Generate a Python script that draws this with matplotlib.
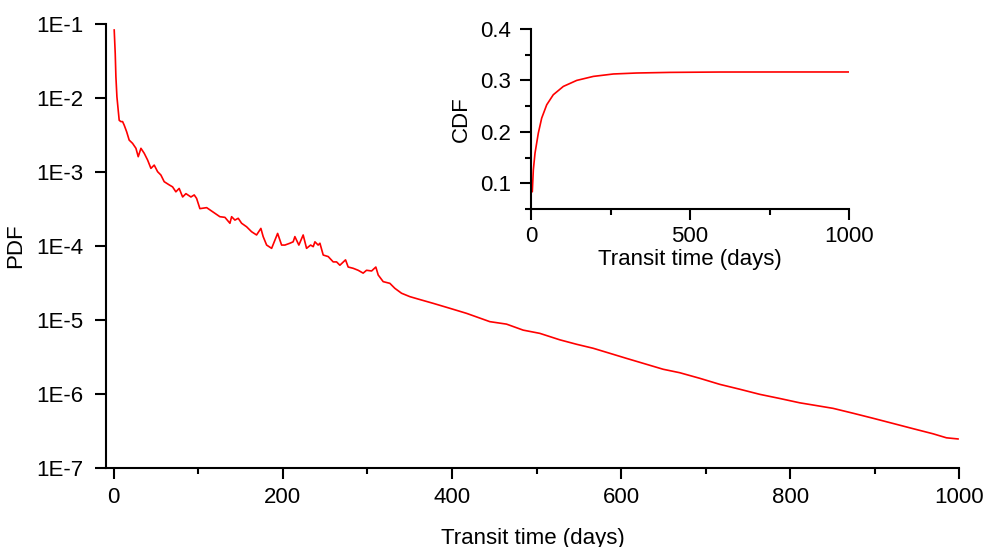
import numpy as np
import matplotlib.pyplot as plt
from matplotlib.ticker import FixedLocator, MultipleLocator, NullLocator

plt.rcParams['font.family'] = ['Liberation Sans', 'DejaVu Sans']

# PDF des temps de transit
pdf_jours = [0.7, 1.9, 2.7, 3.9, 5.4, 6.6, 8.6, 10.6, 12.5, 15.4, 18.4, 22.4, 26.4,
             29.1, 32.3, 36.2, 40.2, 44.1, 48.0, 52.0, 55.9, 59.8, 65.7, 69.7, 73.6,
             77.5, 81.6, 85.5, 91.4, 95.3, 98.1, 102, 110, 119.7, 125.6, 131.6, 137.5,
             139.5, 143.4, 147.3, 151.3, 157.2, 163.1, 169, 174.1, 176.8, 180.9, 186.8,
             190.7, 193.9, 198.6, 202.5, 208.4, 212.3, 214.3, 219, 224.1, 228.1, 232.9,
             236, 238, 241.8, 243.9, 247.8, 253.7, 259.6, 263.6, 267.5, 274.2, 277.3,
             283.2, 289.1, 295, 299, 305, 310, 312.8, 318.7, 326.6, 332.5, 340.4, 350.2,
             360, 377.8, 397.5, 417.3, 444.8, 464.5, 484.2, 503.9, 527.5, 547.3, 567,
             586.6, 606.4, 626, 649.7, 669.3, 693, 716.7, 740.3, 763.9, 787.6, 811.3,
             827, 850.6, 874.2, 897.9, 921.5, 945.2, 968.8, 984.6, 998.3]
pdf_val = [8.3e-2, 4.0e-2, 1.94e-2, 1.04e-2, 6.9e-3, 5.0e-3, 4.8e-3, 4.8e-3, 4.3e-3,
           3.5e-3, 2.7e-3, 2.44e-3, 2.09e-3, 1.61e-3, 2.09e-3, 1.79e-3, 1.45e-3, 1.12e-3,
           1.24e-3, 1.01e-3, 9.1e-4, 7.4e-4, 6.7e-4, 6.3e-4, 5.4e-4, 6.0e-4, 4.6e-4,
           5.1e-4, 4.6e-4, 4.9e-4, 4.4e-4, 3.2e-4, 3.3e-4, 2.77e-4, 2.49e-4, 2.44e-4,
           2.03e-4, 2.49e-4, 2.24e-4, 2.37e-4, 2.03e-4, 1.82e-4, 1.56e-4, 1.41e-4, 1.73e-4,
           1.34e-4, 1.03e-4, 9.3e-5, 1.2e-4, 1.48e-4, 1.03e-4, 1.03e-4, 1.09e-4, 1.14e-4,
           1.34e-4, 1.03e-4, 1.41e-4, 9.3e-5, 1.03e-4, 9.8e-5, 1.14e-4, 1.03e-4, 1.09e-4,
           7.55e-5, 7.2e-5, 6.1e-5, 6.1e-5, 5.5e-5, 6.5e-5, 5.2e-5, 5.0e-5, 4.7e-5, 4.3e-5,
           4.7e-5, 4.6e-5, 5.2e-5, 4.06e-5, 3.3e-5, 3.13e-5, 2.68e-5, 2.3e-5, 2.07e-5,
           1.92e-5, 1.68e-5, 1.44e-5, 1.23e-5, 9.5e-6, 8.8e-6, 7.3e-6, 6.6e-6, 5.4e-6,
           4.7e-6, 4.15e-6, 3.55e-6, 3.03e-6, 2.6e-6, 2.16e-6, 1.94e-6, 1.63e-6, 1.35e-6,
           1.16e-6, 9.9e-7, 8.7e-7, 7.6e-7, 7.1e-7, 6.4e-7, 5.5e-7, 4.7e-7, 4.0e-7,
           3.4e-7, 2.9e-7, 2.56e-7, 2.47e-7]

# CDF (encart)
cdf_jours = [1, 4.1, 7.3, 12.6, 23, 33.6, 49.4, 70, 101.6, 143.7, 196, 259, 332, 437,
             594, 804, 1000]
cdf_val = [0.083, 0.0837, 0.126, 0.1586, 0.1976, 0.2268, 0.2527, 0.2722, 0.2884,
           0.3001, 0.3079, 0.3126, 0.3145, 0.3157, 0.3164, 0.3165, 0.3165]

etichette_y = ['1E-7', '1E-6', '1E-5', '1E-4', '1E-3', '1E-2', '1E-1']
valori_y = [1e-7, 1e-6, 1e-5, 1e-4, 1e-3, 1e-2, 1e-1]

fig = plt.figure(figsize=(9.87, 5.47), dpi=100)


def stile_assi(ax, pad_x, pad_y):
    for s in ['top', 'right']:
        ax.spines[s].set_visible(False)
    for s in ['left', 'bottom']:
        ax.spines[s].set_linewidth(1.5)
    ax.tick_params(which='major', direction='out', length=8, width=1.5,
                   labelsize=16, colors='black')
    ax.tick_params(which='minor', direction='out', length=4.3, width=1.5)
    ax.tick_params(axis='x', pad=pad_x)
    ax.tick_params(axis='y', pad=pad_y)


# Grafico principale
ax = fig.add_axes([0.1074, 0.1444, 0.8647, 0.8117])
ax.plot(pdf_jours, pdf_val, color='red', linewidth=1.2)
ax.set_yscale('log')
ax.set_ylim(1e-7, 1e-1)
ax.set_xlim(-9, 1000)
ax.yaxis.set_major_locator(FixedLocator(valori_y))
ax.set_yticklabels(etichette_y)
ax.yaxis.set_minor_locator(NullLocator())
ax.xaxis.set_major_locator(MultipleLocator(200))
ax.xaxis.set_minor_locator(MultipleLocator(100))
stile_assi(ax, 5.5, 8.5)
ax.set_ylabel('PDF', fontsize=16)
ax.set_xlabel('Transit time (days)', fontsize=16)
ax.yaxis.set_label_coords(-0.094, 0.5)
ax.xaxis.set_label_coords(0.5, -0.135)

# Encart CDF
axi = fig.add_axes([0.538, 0.6179, 0.3222, 0.329])
axi.plot(cdf_jours, cdf_val, color='red', linewidth=1.2)
axi.set_xlim(0, 1000)
axi.set_ylim(0.05, 0.4)
axi.xaxis.set_major_locator(MultipleLocator(500))
axi.xaxis.set_minor_locator(MultipleLocator(250))
axi.yaxis.set_major_locator(FixedLocator([0.1, 0.2, 0.3, 0.4]))
axi.yaxis.set_minor_locator(FixedLocator([0.05, 0.15, 0.25, 0.35]))
axi.set_yticklabels(['0.1', '0.2', '0.3', '0.4'])
stile_assi(axi, 4.5, 6.5)
axi.set_ylabel('CDF', fontsize=16)
axi.set_xlabel('Transit time (days)', fontsize=16)
axi.yaxis.set_label_coords(-0.186, 0.5)
axi.xaxis.set_label_coords(0.5, -0.222)

fig.savefig('out.png', dpi=100)
